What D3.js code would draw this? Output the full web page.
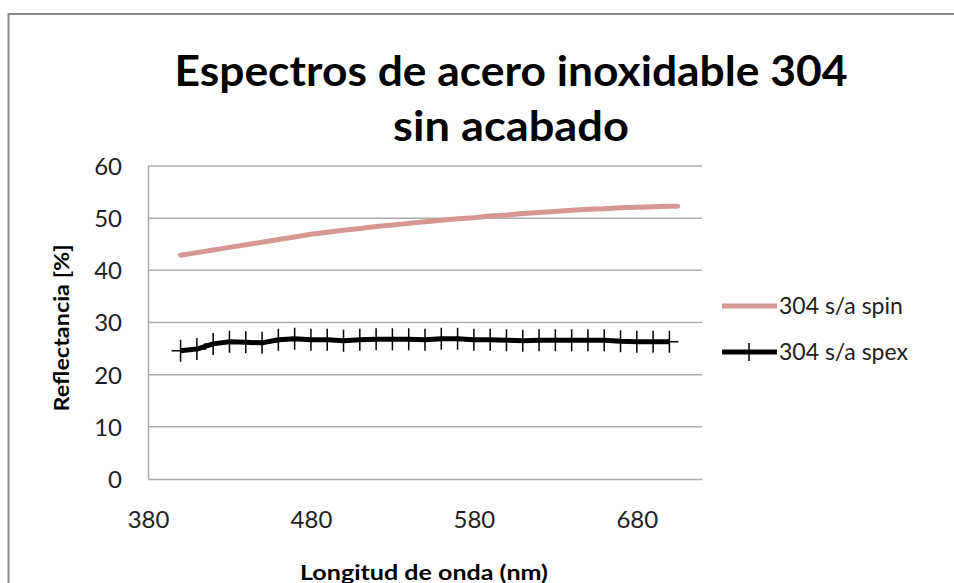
<!DOCTYPE html>
<html>
<head>
<meta charset="utf-8">
<script src="https://cdn.jsdelivr.net/npm/d3@7"></script>
<style>
  body { margin: 0; background: #fff; }
  text { font-family: Lato, "Open Sans", sans-serif; }
</style>
</head>
<body>
<svg id="chart" width="954" height="583"></svg>
<script>
// values
const spinNm = [400, 410, 420, 430, 440, 450, 460, 470, 480, 490, 500, 510, 520, 530, 540, 550,
  560, 570, 580, 590, 600, 610, 620, 630, 640, 650, 660, 670, 680, 690, 700, 705];
const spinVals = [42.9, 43.4, 43.9, 44.4, 44.9, 45.4, 45.9, 46.4, 46.9, 47.3, 47.7, 48.0, 48.4, 48.7,
  49.0, 49.3, 49.6, 49.9, 50.1, 50.4, 50.6, 50.9, 51.1, 51.3, 51.5, 51.7, 51.8, 52.0, 52.1, 52.2, 52.3, 52.3];
const spexNm = [400, 410, 420, 430, 440, 450, 460, 470, 480, 490, 500, 510, 520, 530, 540, 550,
  560, 570, 580, 590, 600, 610, 620, 630, 640, 650, 660, 670, 680, 690, 700];
const spexVals = [24.6, 24.9, 25.9, 26.3, 26.2, 26.1, 26.7, 26.9, 26.7, 26.7, 26.5, 26.7, 26.8, 26.8,
  26.8, 26.7, 26.9, 26.9, 26.7, 26.7, 26.6, 26.5, 26.6, 26.6, 26.6, 26.6, 26.6, 26.4, 26.3, 26.3, 26.3];
const xTicks = [380, 480, 580, 680];
const yTicks = [0, 10, 20, 30, 40, 50, 60];
const seriesNames = ["304 s/a spin", "304 s/a spex"];
const titleLines = ["Espectros de acero inoxidable 304", "sin acabado"];

const svg = d3.select("#chart");

// outer chart border (runs off the right and bottom edges)
svg.append("rect")
  .attr("x", 8.5).attr("y", 14)
  .attr("width", 1000).attr("height", 700)
  .attr("fill", "none")
  .attr("stroke", "#8a8a8a")
  .attr("stroke-width", 2);

const x = d3.scaleLinear().domain([380, 720]).range([148, 702]);
const y = d3.scaleLinear().domain([0, 60]).range([479, 166]);

// horizontal gridlines
svg.append("g")
  .selectAll("line")
  .data(yTicks.filter((d) => d > 0))
  .enter()
  .append("line")
  .attr("x1", x(380)).attr("x2", x(720))
  .attr("y1", (d) => y(d)).attr("y2", (d) => y(d))
  .attr("stroke", "#ababab")
  .attr("stroke-width", 1.5);

// axes
const yAxis = svg.append("g")
  .attr("transform", `translate(${x(380)},0)`)
  .call(d3.axisLeft(y).tickValues(yTicks).tickSize(0).tickPadding(26));
const xAxis = svg.append("g")
  .attr("transform", `translate(0,${y(0)})`)
  .call(d3.axisBottom(x).tickValues(xTicks).tickSize(0).tickPadding(32));
[yAxis, xAxis].forEach((ax) => {
  ax.select(".domain").attr("stroke", "#ababab").attr("stroke-width", 1.5);
  ax.selectAll("text")
    .style("font-family", "Lato, sans-serif")
    .style("font-size", "24px")
    .attr("fill", "#1e1e1e");
});
yAxis.selectAll("text").attr("dy", "0.35em");

const line = d3
  .line()
  .x((d) => x(d[0]))
  .y((d) => y(d[1]));

const spin = spinNm.map((n, i) => [n, spinVals[i]]);
const spex = spexNm.map((n, i) => [n, spexVals[i]]);

svg.append("path")
  .datum(spin)
  .attr("d", line)
  .attr("fill", "none")
  .attr("stroke", "#d69693")
  .attr("stroke-width", 5)
  .attr("stroke-linecap", "round")
  .attr("stroke-linejoin", "round");

svg.append("path")
  .datum(spex)
  .attr("d", line)
  .attr("fill", "none")
  .attr("stroke", "#000")
  .attr("stroke-width", 5)
  .attr("stroke-linejoin", "round");

// "+" markers on the spex series
svg.append("g")
  .selectAll("path")
  .data(spex)
  .enter()
  .append("path")
  .attr("d", "M-9,0H9M0,-11V11")
  .attr("transform", (d) => `translate(${x(d[0])},${y(d[1])})`)
  .attr("stroke", "#000")
  .attr("stroke-width", 1.5);

// title
svg.append("g")
  .selectAll("text")
  .data(titleLines)
  .enter()
  .append("text")
  .attr("x", 511)
  .attr("y", (d, i) => 86 + i * 55)
  .attr("text-anchor", "middle")
  .style("font-size", "42px")
  .style("font-weight", "bold")
  .attr("textLength", (d, i) => (i === 0 ? 673 : 236))
  .attr("lengthAdjust", "spacingAndGlyphs")
  .text((d) => d);

// axis titles
svg.append("text")
  .attr("transform", "translate(69,328) rotate(-90)")
  .attr("text-anchor", "middle")
  .style("font-size", "20px")
  .style("font-weight", "bold")
  .attr("textLength", 167)
  .attr("lengthAdjust", "spacingAndGlyphs")
  .text("Reflectancia [%]");

svg.append("text")
  .attr("x", 424)
  .attr("y", 580)
  .attr("text-anchor", "middle")
  .style("font-size", "20px")
  .style("font-weight", "bold")
  .attr("textLength", 248)
  .attr("lengthAdjust", "spacingAndGlyphs")
  .text("Longitud de onda (nm)");

// legend
const legend = svg.append("g")
  .selectAll("g")
  .data(seriesNames)
  .enter()
  .append("g")
  .attr("transform", (d, i) => `translate(722,${306 + i * 46})`);
legend.append("line")
  .attr("x1", 0).attr("x2", 55)
  .attr("stroke", (d, i) => (i === 0 ? "#d69693" : "#000"))
  .attr("stroke-width", 5);
legend.filter((d, i) => i === 1)
  .append("path")
  .attr("d", "M27,-9V9")
  .attr("stroke", "#000")
  .attr("stroke-width", 1.5);
legend.append("text")
  .attr("x", 57)
  .attr("dy", "0.35em")
  .style("font-size", "23px")
  .attr("fill", "#1e1e1e")
  .text((d) => d);
</script>
</body>
</html>
